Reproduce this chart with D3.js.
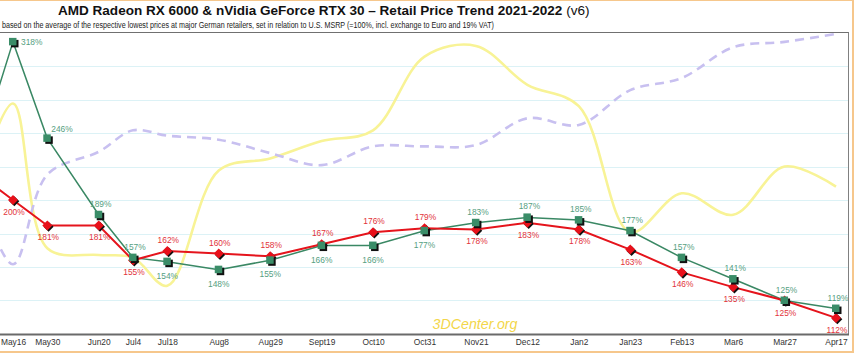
<!DOCTYPE html>
<html><head><meta charset="utf-8">
<script src="https://cdn.jsdelivr.net/npm/d3@7"></script>
<style>
body{margin:0;background:#fff}
svg{display:block}
text{font-family:"Liberation Sans",Arial,sans-serif}
</style>
</head><body>
<svg id="chart" width="854" height="355"></svg>
<script>
// ---- data (first entry is the earlier week that is cut off at the left edge) ----
const dates = ["2021-05-02","2021-05-16","2021-05-30","2021-06-20","2021-07-04","2021-07-18","2021-08-08","2021-08-29",
  "2021-09-19","2021-10-10","2021-10-31","2021-11-21","2021-12-12","2022-01-02","2022-01-23","2022-02-13",
  "2022-03-06","2022-03-27","2022-04-17"];
const tickLabels = ["May16","May30","Jun20","Jul4","Jul18","Aug8","Aug29","Sept19","Oct10","Oct31","Nov21",
  "Dec12","Jan2","Jan23","Feb13","Mar6","Mar27","Apr17"];
const nvidiaValues = [236,318,246,189,157,154,148,155,166,166,177,183,187,185,177,157,141,125,119];
const amdValues    = [219,200,181,181,155,162,160,158,167,176,179,178,183,178,163,146,135,125,112];
const yellowValues = [215,272,164,159,157,136,222,231,244,252,307,315,286,270,176,205,189,225,210];
const lavenderValues=[205,152,219,236,252,248,245,235,226,240,240,241,261,256,282,291,314,318,324];
const gridValues = [125,150,175,200,225,250,275,300];
const titleMain = "AMD Radeon RX 6000 & nVidia GeForce RTX 30 \u2013 Retail Price Trend 2021-2022";
const titleSuffix = " (v6)";
const subtitle = "based on the average of the respective lowest prices at major German retailers, set in relation to U.S. MSRP (=100%, incl. exchange to Euro and 19% VAT)";
const watermark = "3DCenter.org";

// ---- setup ----
const W = 854, H = 355;
const plot = {left:0, right:849, top:32.5, bottom:334};
const parse = d3.timeParse("%Y-%m-%d");
const dts = dates.map(parse);
const tickDates = dts.slice(1);

const x = d3.scaleTime().domain([dts[1], dts[dts.length-1]]).range([13, 836]);
const y = d3.scaleLinear().domain([100, 325]).range([plot.bottom, plot.top]);

const svg = d3.select("#chart");
svg.append("rect").attr("width",W).attr("height",H).attr("fill","#fff");

const defs = svg.append("defs");
defs.append("clipPath").attr("id","clip").append("rect")
  .attr("x",plot.left).attr("y",plot.top).attr("width",plot.right-plot.left).attr("height",plot.bottom-plot.top);
defs.append("clipPath").attr("id","clipx").append("rect")
  .attr("x",plot.left).attr("y",plot.top-5).attr("width",plot.right-plot.left).attr("height",plot.bottom-plot.top+15);

// grid
svg.append("g").selectAll("line").data(gridValues).join("line")
  .attr("x1",plot.left).attr("x2",plot.right)
  .attr("y1",d=>Math.round(y(d))+0.5).attr("y2",d=>Math.round(y(d))+0.5)
  .attr("stroke","#dcf2f6").attr("stroke-width",1);

// watermark
const wm = svg.append("text").text(watermark)
  .attr("x",475).attr("y",329).attr("text-anchor","middle")
  .attr("font-style","italic").attr("font-size",14.5)
  .attr("fill","#f3d64a");

const g = svg.append("g").attr("clip-path","url(#clip)");

const smooth = d3.line().x((d,i)=>x(dts[i])).y(d=>y(d)).curve(d3.curveCatmullRom.alpha(0.5));
const straight = d3.line().x((d,i)=>x(dts[i])).y(d=>y(d));

g.append("path").attr("d",smooth(yellowValues)).attr("fill","none")
  .attr("stroke","#f8f396").attr("stroke-width",2.6);
g.append("path").attr("d",smooth(lavenderValues)).attr("fill","none")
  .attr("stroke","#c8c0f0").attr("stroke-width",2.6).attr("stroke-dasharray","9,6");

g.append("path").attr("d",straight(nvidiaValues)).attr("fill","none")
  .attr("stroke","#3a8864").attr("stroke-width",1.5);
g.append("path").attr("d",straight(amdValues)).attr("fill","none")
  .attr("stroke","#e5141c").attr("stroke-width",2);

const idx = d3.range(1, dts.length);

// red diamonds
const diamond = (cx,cy,r)=>`M${cx},${cy-r}L${cx+r},${cy}L${cx},${cy+r}L${cx-r},${cy}Z`;
const gm = svg.append("g").attr("clip-path","url(#clipx)");
gm.selectAll("path.rs").data(idx).join("path").attr("class","rs")
  .attr("d",i=>diamond(x(dts[i])+1.3,y(amdValues[i])+1.3,5)).attr("fill","#111");
gm.selectAll("path.rd").data(idx).join("path").attr("class","rd")
  .attr("d",i=>diamond(x(dts[i]),y(amdValues[i]),5)).attr("fill","#e8101a");

// green squares
gm.selectAll("rect.gs").data(idx).join("rect").attr("class","gs")
  .attr("x",i=>x(dts[i])-3.5+1.5).attr("y",i=>y(nvidiaValues[i])-3.5+1.5)
  .attr("width",7.5).attr("height",7.5).attr("fill","#111");
gm.selectAll("rect.gd").data(idx).join("rect").attr("class","gd")
  .attr("x",i=>x(dts[i])-4).attr("y",i=>y(nvidiaValues[i])-4)
  .attr("width",7.5).attr("height",7.5).attr("fill","#3a8d68");

// value labels
const lblSize = 8.4;
gm.selectAll("text.gl").data(idx).join("text").attr("class","gl")
  .attr("font-size",lblSize).attr("fill","#56a07f")
  .each(function(i){
    const cx = x(dts[i]), cy = y(nvidiaValues[i]);
    const t = d3.select(this).text(nvidiaValues[i]+"%");
    if (i===1){ t.attr("x",cx+8).attr("y",cy+3).attr("text-anchor","start"); }
    else if (i===2){ t.attr("x",cx+4).attr("y",cy-6).attr("text-anchor","start"); }
    else if (nvidiaValues[i] >= amdValues[i]){ t.attr("x",cx+2).attr("y",cy-8).attr("text-anchor","middle"); }
    else { t.attr("x",cx).attr("y",cy+17).attr("text-anchor","middle"); }
  });
gm.selectAll("text.rl").data(idx).join("text").attr("class","rl")
  .attr("font-size",lblSize).attr("fill","#e2333b")
  .each(function(i){
    const cx = x(dts[i]), cy = y(amdValues[i]);
    const t = d3.select(this).text(amdValues[i]+"%").attr("text-anchor","middle").attr("x",cx+1);
    if (amdValues[i] > nvidiaValues[i]) t.attr("y",cy-8);
    else t.attr("y",cy+15);
  });

// frame of plot
svg.append("line").attr("x1",0).attr("x2",plot.right).attr("y1",plot.top).attr("y2",plot.top)
  .attr("stroke","#707070").attr("stroke-width",1);
svg.append("line").attr("x1",plot.right-0.5).attr("x2",plot.right-0.5).attr("y1",plot.top).attr("y2",plot.bottom)
  .attr("stroke","#808080").attr("stroke-width",1);
svg.append("line").attr("x1",0).attr("x2",plot.right).attr("y1",plot.bottom+0.5).attr("y2",plot.bottom+0.5)
  .attr("stroke","#6a6a6a").attr("stroke-width",2);

// x axis
const ax = svg.append("g").attr("transform",`translate(0,${plot.bottom})`)
  .call(d3.axisBottom(x).tickValues(tickDates).tickFormat((d,i)=>tickLabels[i]).tickSize(0).tickPadding(5));
ax.select(".domain").remove();
ax.selectAll("text").attr("font-size",8.4).attr("fill","#333").attr("font-family","'Liberation Sans',Arial,sans-serif");

// titles
const title = svg.append("text").attr("x",58).attr("y",15).attr("fill","#111");
title.append("tspan").attr("font-weight","bold").text(titleMain);
title.append("tspan").attr("font-weight","normal").text(titleSuffix);
function fit(sel, target){
  const cur = +sel.attr("font-size");
  const w = sel.node().getComputedTextLength();
  sel.attr("font-size", cur*target/w);
}
title.attr("font-size",12); fit(title, 532);
svg.append("text").attr("x",2).attr("y",27.5).attr("font-size",9.6).attr("fill","#222")
  .attr("textLength",492).attr("lengthAdjust","spacingAndGlyphs").text(subtitle);
fit(wm, 85);

// outer frame
svg.append("rect").attr("x",-2).attr("y",0).attr("width",855).attr("height",352)
  .attr("fill","none").attr("stroke","#f6c78c").attr("stroke-width",2);
</script>
</body></html>
